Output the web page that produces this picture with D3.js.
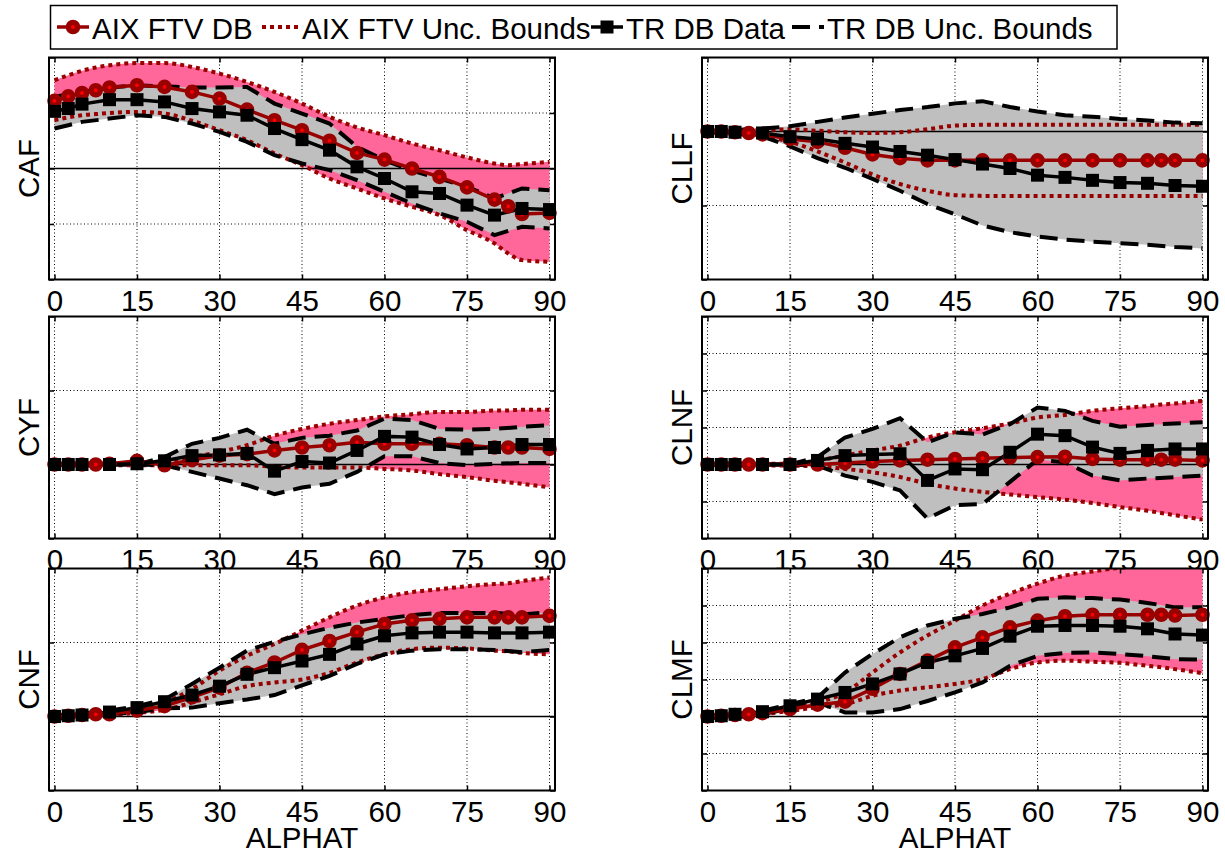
<!DOCTYPE html>
<html>
<head>
<meta charset="utf-8">
<script src="https://cdn.jsdelivr.net/npm/d3@7"></script>
<style>
  body { margin: 0; background: #fff; }
  svg { display: block; font-family: "Liberation Sans", Arial, Helvetica, sans-serif; }
</style>
</head>
<body>
<svg id="chart" width="1225" height="853"></svg>
<script>
// angle grids (deg)
const alphaAix = [0, 2.5, 5, 7.5, 10, 15, 20, 25, 30, 35, 40, 45, 50, 55, 60, 65, 70, 75, 80, 82.5, 85, 90];
const alphaTr = [0, 2.5, 5, 10, 15, 20, 25, 30, 35, 40, 45, 50, 55, 60, 65, 70, 75, 80, 85, 90];
const xTicks = [0, 15, 30, 45, 60, 75, 90];

// values are in grid units (no y tick labels in the original)
const cafAix   = [1.22, 1.30, 1.36, 1.41, 1.46, 1.50, 1.47, 1.38, 1.26, 1.06, 0.87, 0.69, 0.50, 0.28, 0.16, 0.00, -0.15, -0.34, -0.56, -0.68, -0.82, -0.80];
const cafAixHi = [1.59, 1.68, 1.76, 1.82, 1.86, 1.90, 1.90, 1.83, 1.71, 1.56, 1.38, 1.17, 0.93, 0.74, 0.60, 0.45, 0.33, 0.20, 0.09, 0.06, 0.08, 0.12];
const cafAixLo = [0.87, 0.92, 0.96, 0.98, 1.00, 1.02, 0.99, 0.86, 0.69, 0.51, 0.27, 0.06, -0.18, -0.36, -0.54, -0.69, -0.84, -1.11, -1.35, -1.53, -1.65, -1.68];
const cafTr    = [1.03, 1.08, 1.16, 1.24, 1.24, 1.20, 1.08, 1.02, 0.96, 0.72, 0.52, 0.33, 0.03, -0.18, -0.42, -0.45, -0.66, -0.84, -0.72, -0.74];
const cafTrHi  = [1.29, 1.34, 1.38, 1.46, 1.50, 1.48, 1.46, 1.46, 1.47, 1.17, 0.99, 0.81, 0.39, 0.15, -0.04, -0.18, -0.33, -0.54, -0.36, -0.39];
const cafTrLo  = [0.72, 0.78, 0.84, 0.90, 0.96, 0.93, 0.81, 0.66, 0.48, 0.24, 0.09, -0.03, -0.21, -0.42, -0.63, -0.81, -0.96, -1.20, -1.05, -1.08];

const cllfAix   = [0, 0, -0.01, -0.02, -0.04, -0.10, -0.14, -0.22, -0.31, -0.36, -0.39, -0.39, -0.39, -0.39, -0.39, -0.39, -0.39, -0.39, -0.39, -0.39, -0.39, -0.39];
const cllfAixHi = [0.01, 0.01, 0.02, 0.02, 0.02, 0.03, 0.01, -0.01, -0.02, -0.01, 0.03, 0.08, 0.09, 0.09, 0.09, 0.09, 0.09, 0.09, 0.09, 0.09, 0.09, 0.09];
const cllfAixLo = [-0.01, -0.01, -0.02, -0.03, -0.06, -0.14, -0.27, -0.42, -0.58, -0.71, -0.80, -0.86, -0.87, -0.87, -0.87, -0.87, -0.87, -0.87, -0.87, -0.87, -0.87, -0.87];
const cllfTr    = [0, 0, -0.01, -0.02, -0.07, -0.10, -0.16, -0.21, -0.27, -0.32, -0.38, -0.44, -0.50, -0.59, -0.62, -0.66, -0.69, -0.70, -0.73, -0.74];
const cllfTrHi  = [0.01, 0.01, 0.02, 0.04, 0.07, 0.13, 0.19, 0.24, 0.29, 0.33, 0.38, 0.41, 0.33, 0.27, 0.22, 0.20, 0.17, 0.15, 0.12, 0.11];
const cllfTrLo  = [-0.01, -0.02, -0.03, -0.07, -0.20, -0.36, -0.49, -0.64, -0.80, -0.98, -1.12, -1.27, -1.36, -1.42, -1.46, -1.49, -1.51, -1.53, -1.56, -1.58];

const cyfAix   = [0, 0, 0, 0, 0.01, 0.05, -0.01, 0.06, 0.12, 0.14, 0.19, 0.23, 0.26, 0.30, 0.28, 0.28, 0.28, 0.26, 0.23, 0.23, 0.23, 0.21];
const cyfAixHi = [0.01, 0.01, 0.01, 0.01, 0.01, 0.02, 0.03, 0.10, 0.17, 0.26, 0.39, 0.48, 0.55, 0.60, 0.65, 0.68, 0.71, 0.71, 0.73, 0.73, 0.74, 0.74];
const cyfAixLo = [-0.01, -0.01, -0.01, -0.01, -0.01, -0.01, -0.01, -0.01, -0.01, -0.01, -0.03, -0.04, -0.04, -0.04, -0.06, -0.08, -0.13, -0.17, -0.22, -0.24, -0.26, -0.31];
const cyfTr    = [0, 0, 0, 0, 0.01, 0.05, 0.12, 0.13, 0.15, -0.09, 0.04, 0.02, 0.19, 0.38, 0.37, 0.27, 0.21, 0.23, 0.27, 0.27];
const cyfTrHi  = [0, 0, 0, 0, 0, 0.10, 0.28, 0.36, 0.47, 0.28, 0.36, 0.39, 0.46, 0.62, 0.60, 0.48, 0.47, 0.48, 0.51, 0.53];
const cyfTrLo  = [0, 0, 0, 0, 0, -0.01, -0.10, -0.19, -0.28, -0.40, -0.31, -0.26, -0.10, 0.11, 0.11, 0.02, -0.01, 0.01, 0.02, 0.02];

const clnfAix   = [0, 0, 0, 0, 0, 0, 0, 0.04, 0.08, 0.11, 0.13, 0.15, 0.17, 0.19, 0.20, 0.21, 0.15, 0.13, 0.13, 0.13, 0.13, 0.11];
const clnfAixHi = [0.02, 0.02, 0.02, 0.02, 0.02, 0.02, 0.11, 0.24, 0.38, 0.51, 0.73, 0.87, 0.98, 1.11, 1.27, 1.34, 1.45, 1.52, 1.58, 1.62, 1.65, 1.72];
const clnfAixLo = [-0.03, -0.03, -0.03, -0.03, -0.03, -0.03, -0.05, -0.12, -0.21, -0.34, -0.52, -0.65, -0.74, -0.81, -0.88, -0.95, -1.04, -1.15, -1.25, -1.31, -1.37, -1.49];
const clnfTr    = [0, 0, 0, 0, 0, 0.11, 0.24, 0.27, 0.29, -0.43, -0.12, -0.14, 0.33, 0.82, 0.78, 0.47, 0.30, 0.38, 0.42, 0.42];
const clnfTrHi  = [0, 0, 0, 0, 0, 0.20, 0.73, 0.96, 1.25, 0.60, 0.87, 0.81, 1.09, 1.54, 1.45, 1.18, 1.02, 1.07, 1.11, 1.14];
const clnfTrLo  = [0, 0, 0, 0, 0, -0.03, -0.30, -0.47, -0.70, -1.46, -1.10, -1.07, -0.47, 0.13, 0.06, -0.30, -0.43, -0.38, -0.34, -0.30];

const cnfAix   = [0, 0.01, 0.02, 0.03, 0.03, 0.08, 0.14, 0.26, 0.39, 0.59, 0.73, 0.90, 1.02, 1.14, 1.25, 1.30, 1.32, 1.34, 1.34, 1.34, 1.34, 1.36];
const cnfAixHi = [0.01, 0.02, 0.03, 0.04, 0.05, 0.10, 0.19, 0.37, 0.62, 0.82, 0.98, 1.16, 1.34, 1.50, 1.61, 1.68, 1.72, 1.76, 1.79, 1.80, 1.83, 1.88];
const cnfAixLo = [-0.01, -0.01, 0, 0.01, 0.02, 0.05, 0.09, 0.19, 0.30, 0.41, 0.46, 0.50, 0.59, 0.73, 0.84, 0.91, 0.93, 0.92, 0.89, 0.88, 0.86, 0.84];
const cnfTr    = [0, 0.01, 0.02, 0.06, 0.12, 0.20, 0.29, 0.41, 0.57, 0.66, 0.75, 0.84, 0.98, 1.09, 1.13, 1.14, 1.14, 1.13, 1.13, 1.14];
const cnfTrHi  = [0.01, 0.03, 0.04, 0.08, 0.14, 0.23, 0.44, 0.66, 0.89, 1.01, 1.11, 1.20, 1.27, 1.32, 1.37, 1.40, 1.40, 1.40, 1.38, 1.41];
const cnfTrLo  = [-0.03, -0.02, -0.01, 0.03, 0.06, 0.11, 0.12, 0.18, 0.23, 0.29, 0.42, 0.55, 0.71, 0.84, 0.89, 0.91, 0.91, 0.90, 0.87, 0.90];

const clmfAix   = [0, 0.02, 0.04, 0.06, 0.09, 0.20, 0.32, 0.40, 0.75, 1.15, 1.51, 1.87, 2.14, 2.41, 2.59, 2.71, 2.75, 2.75, 2.75, 2.75, 2.73, 2.75];
const clmfAixHi = [0.01, 0.02, 0.04, 0.06, 0.11, 0.24, 0.38, 0.65, 1.19, 1.73, 2.19, 2.59, 3.00, 3.32, 3.59, 3.81, 3.92, 4.02, 4.08, 4.12, 4.15, 4.20];
const clmfAixLo = [-0.02, -0.01, 0, 0.02, 0.06, 0.15, 0.25, 0.33, 0.56, 0.70, 0.79, 0.88, 1.01, 1.28, 1.46, 1.51, 1.48, 1.45, 1.37, 1.33, 1.28, 1.17];
const clmfTr    = [0, 0.02, 0.06, 0.13, 0.29, 0.47, 0.65, 0.88, 1.15, 1.46, 1.64, 1.84, 2.17, 2.44, 2.46, 2.46, 2.44, 2.37, 2.23, 2.20];
const clmfTrHi  = [0.02, 0.04, 0.06, 0.16, 0.33, 0.51, 1.19, 1.69, 2.14, 2.46, 2.64, 2.77, 2.95, 3.18, 3.22, 3.20, 3.16, 3.07, 2.95, 2.95];
const clmfTrLo  = [-0.05, -0.03, -0.03, 0.06, 0.22, 0.38, 0.11, 0.11, 0.20, 0.42, 0.65, 0.92, 1.37, 1.64, 1.72, 1.73, 1.69, 1.63, 1.55, 1.54];

const legendLabels = ['AIX FTV DB', 'AIX FTV Unc. Bounds', 'TR DB Data', 'TR DB Unc. Bounds'];

const panels = [
  { name: 'CAF',  col: 0, row: 0, yDomain: [-2, 2], aix: cafAix,  aixLo: cafAixLo,  aixHi: cafAixHi,  tr: cafTr,  trLo: cafTrLo,  trHi: cafTrHi },
  { name: 'CLLF', col: 1, row: 0, yDomain: [-2, 1], aix: cllfAix, aixLo: cllfAixLo, aixHi: cllfAixHi, tr: cllfTr, trLo: cllfTrLo, trHi: cllfTrHi },
  { name: 'CYF',  col: 0, row: 1, yDomain: [-1, 2], aix: cyfAix,  aixLo: cyfAixLo,  aixHi: cyfAixHi,  tr: cyfTr,  trLo: cyfTrLo,  trHi: cyfTrHi },
  { name: 'CLNF', col: 1, row: 1, yDomain: [-2, 4], aix: clnfAix, aixLo: clnfAixLo, aixHi: clnfAixHi, tr: clnfTr, trLo: clnfTrLo, trHi: clnfTrHi },
  { name: 'CNF',  col: 0, row: 2, yDomain: [-1, 2], aix: cnfAix,  aixLo: cnfAixLo,  aixHi: cnfAixHi,  tr: cnfTr,  trLo: cnfTrLo,  trHi: cnfTrHi },
  { name: 'CLMF', col: 1, row: 2, yDomain: [-2, 4], aix: clmfAix, aixLo: clmfAixLo, aixHi: clmfAixHi, tr: clmfTr, trLo: clmfTrLo, trHi: clmfTrHi }
];

const svg = d3.select('#chart');
const defs = svg.append('defs');
const W = 506, H = 222;
const colLeft = [49, 702];
const rowTop = [57.5, 316.5, 568.5];
const FONT = 29.5;
const DARKRED = '#990000', PINK = '#ff6699', GRAY = '#bfbfbf';
const DOTS = '4,4', DASHES = '18,9';

const x = d3.scaleLinear().domain([-1, 91]).range([0, W]);

function circleMarker(sel) {
  sel.attr('r', 4.6).attr('fill', '#ff0000').attr('stroke', DARKRED).attr('stroke-width', 5.4);
}
function squareMarker(sel) {
  sel.attr('width', 13).attr('height', 13).attr('fill', '#000');
}

panels.forEach((p, i) => {
  const y = d3.scaleLinear().domain(p.yDomain).range([H, 0]);
  const g = svg.append('g').attr('transform', `translate(${colLeft[p.col]},${rowTop[p.row]})`);
  defs.append('clipPath').attr('id', 'clip' + i)
    .append('rect').attr('width', W).attr('height', H);

  g.append('rect').attr('width', W).attr('height', H).attr('fill', '#fff');

  const yTicks = d3.range(p.yDomain[0], p.yDomain[1] + 0.5, 1);

  // dotted grid
  const grid = g.append('g').attr('stroke', '#000').attr('stroke-width', 1).attr('stroke-dasharray', '1,2.5');
  grid.selectAll('.gx').data(xTicks).join('line').attr('class', 'gx')
    .attr('x1', d => x(d)).attr('x2', d => x(d)).attr('y1', 0).attr('y2', H);
  grid.selectAll('.gy').data(yTicks).join('line').attr('class', 'gy')
    .attr('x1', 0).attr('x2', W).attr('y1', d => y(d)).attr('y2', d => y(d));

  const aixPts = alphaAix.map((a, j) => ({ a, v: p.aix[j], lo: p.aixLo[j], hi: p.aixHi[j] }));
  const trPts = alphaTr.map((a, j) => ({ a, v: p.tr[j], lo: p.trLo[j], hi: p.trHi[j] }));

  const body = g.append('g').attr('clip-path', `url(#clip${i})`);

  body.append('path').datum(aixPts).attr('fill', PINK)
    .attr('d', d3.area().curve(d3.curveMonotoneX).x(d => x(d.a)).y0(d => y(d.lo)).y1(d => y(d.hi)));
  body.append('path').datum(trPts).attr('fill', GRAY)
    .attr('d', d3.area().x(d => x(d.a)).y0(d => y(d.lo)).y1(d => y(d.hi)));

  body.append('line').attr('x1', 0).attr('x2', W).attr('y1', y(0)).attr('y2', y(0))
    .attr('stroke', '#000').attr('stroke-width', 1.5);

  ['lo', 'hi'].forEach(k => {
    body.append('path').datum(aixPts).attr('fill', 'none')
      .attr('stroke', DARKRED).attr('stroke-width', 4).attr('stroke-dasharray', DOTS)
      .attr('d', d3.line().curve(d3.curveMonotoneX).x(d => x(d.a)).y(d => y(d[k])));
  });
  ['lo', 'hi'].forEach(k => {
    body.append('path').datum(trPts).attr('fill', 'none')
      .attr('stroke', '#000').attr('stroke-width', 4).attr('stroke-dasharray', DASHES)
      .attr('d', d3.line().x(d => x(d.a)).y(d => y(d[k])));
  });

  // AIX data
  body.append('path').datum(aixPts).attr('fill', 'none')
    .attr('stroke', DARKRED).attr('stroke-width', 3.5)
    .attr('d', d3.line().x(d => x(d.a)).y(d => y(d.v)));
  g.append('g').selectAll('circle').data(aixPts).join('circle')
    .attr('cx', d => x(d.a)).attr('cy', d => y(d.v)).call(circleMarker);

  // TR data
  body.append('path').datum(trPts).attr('fill', 'none')
    .attr('stroke', '#000').attr('stroke-width', 3.5)
    .attr('d', d3.line().x(d => x(d.a)).y(d => y(d.v)));
  g.append('g').selectAll('rect').data(trPts).join('rect')
    .attr('x', d => x(d.a) - 6.5).attr('y', d => y(d.v) - 6.5).call(squareMarker);

  // axes: inward ticks on all four sides, labels only at the bottom
  const styleAxis = sel => {
    sel.select('.domain').remove();
    sel.attr('font-size', null).attr('font-family', null);
    sel.selectAll('line').attr('stroke', '#000').attr('stroke-width', 1.5);
    sel.selectAll('text').attr('font-size', FONT).attr('fill', '#000');
  };
  g.append('g').attr('transform', `translate(0,${H})`)
    .call(d3.axisBottom(x).tickValues(xTicks).tickSizeInner(-5).tickSizeOuter(0).tickPadding(10.6))
    .call(styleAxis);
  g.append('g')
    .call(d3.axisTop(x).tickValues(xTicks).tickSizeInner(-5).tickSizeOuter(0).tickFormat(''))
    .call(styleAxis);
  g.append('g')
    .call(d3.axisLeft(y).tickValues(yTicks).tickSizeInner(-5).tickSizeOuter(0).tickFormat(''))
    .call(styleAxis);
  g.append('g').attr('transform', `translate(${W},0)`)
    .call(d3.axisRight(y).tickValues(yTicks).tickSizeInner(-5).tickSizeOuter(0).tickFormat(''))
    .call(styleAxis);

  g.append('rect').attr('width', W).attr('height', H)
    .attr('fill', 'none').attr('stroke', '#000').attr('stroke-width', 2);

  g.append('text')
    .attr('transform', `translate(-10,${H / 2}) rotate(-90)`)
    .attr('text-anchor', 'middle').attr('font-size', FONT)
    .text(p.name);

  if (p.row === 2) {
    g.append('text').attr('x', W / 2).attr('y', 848 - rowTop[2])
      .attr('text-anchor', 'middle').attr('font-size', FONT)
      .text('ALPHAT');
  }
});

// legend
const lg = svg.append('g');
lg.append('rect').attr('x', 50.5).attr('y', 5.5).attr('width', 1066.5).attr('height', 43.5)
  .attr('fill', '#fff').attr('stroke', '#000').attr('stroke-width', 1.5);
const legX = [57, 262, 591, 792];
const legY = 27;
const sampleW = 32;

lg.append('line').attr('x1', legX[0]).attr('x2', legX[0] + sampleW).attr('y1', legY).attr('y2', legY)
  .attr('stroke', DARKRED).attr('stroke-width', 3.5);
lg.append('circle').attr('cx', legX[0] + sampleW / 2).attr('cy', legY).call(circleMarker);

lg.append('line').attr('x1', legX[1]).attr('x2', legX[1] + sampleW + 4).attr('y1', legY).attr('y2', legY)
  .attr('stroke', DARKRED).attr('stroke-width', 4).attr('stroke-dasharray', DOTS);

lg.append('line').attr('x1', legX[2]).attr('x2', legX[2] + sampleW).attr('y1', legY).attr('y2', legY)
  .attr('stroke', '#000').attr('stroke-width', 3.5);
lg.append('rect').attr('x', legX[2] + sampleW / 2 - 6.5).attr('y', legY - 6.5).call(squareMarker);

lg.append('line').attr('x1', legX[3]).attr('x2', legX[3] + sampleW).attr('y1', legY).attr('y2', legY)
  .attr('stroke', '#000').attr('stroke-width', 4).attr('stroke-dasharray', DASHES);

lg.selectAll('text.leg').data(legendLabels).join('text').attr('class', 'leg')
  .attr('x', (d, i) => legX[i] + (i === 1 ? 40 : 35))
  .attr('y', 38.5)
  .attr('font-size', FONT)
  .text(d => d);
</script>
</body>
</html>
